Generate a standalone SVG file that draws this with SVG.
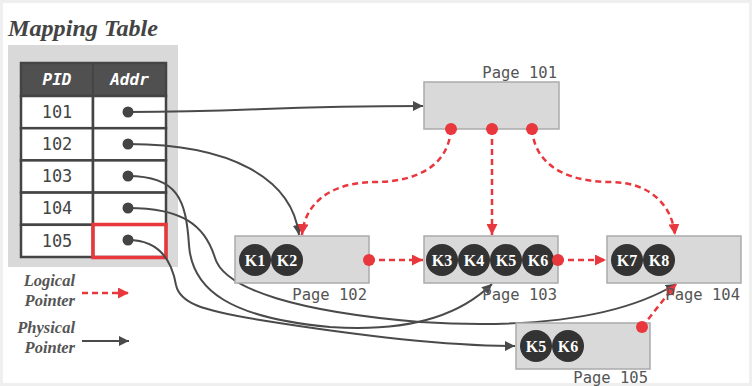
<svg xmlns="http://www.w3.org/2000/svg" width="752" height="386" viewBox="0 0 752 386">
<defs>
<style>
.title{font-family:"Liberation Serif","DejaVu Serif",serif;font-weight:bold;font-style:italic;fill:#444}
.legend{font-family:"Liberation Serif","DejaVu Serif",serif;font-weight:bold;font-style:italic;font-size:16.5px;fill:#555;text-anchor:end}
.hdr{font-family:"DejaVu Sans Mono","Liberation Mono",monospace;font-weight:bold;font-style:italic;font-size:16px;fill:#fff;text-anchor:middle}
.pid{font-family:"DejaVu Sans Mono","Liberation Mono",monospace;font-size:17px;fill:#444;text-anchor:middle}
.cell{fill:#fff;stroke:#444;stroke-width:2.5}
.page{fill:#d9d9d9;stroke:#aaa;stroke-width:1.5}
.plabel{font-family:"DejaVu Sans Mono","Liberation Mono",monospace;font-size:15.5px;fill:#555;text-anchor:end}
.key{fill:#333}
.ktext{font-family:"Liberation Serif","DejaVu Serif",serif;font-weight:bold;font-size:16px;fill:#fff;text-anchor:middle}
.dot{fill:#444}
.rdot{fill:#e8373d}
.phys{fill:none;stroke:#4a4a4a;stroke-width:2}
.log{fill:none;stroke:#e8373d;stroke-width:2.5;stroke-dasharray:6 4}
</style>
<marker id="ab" viewBox="0 0 10 10" refX="10" refY="5" markerWidth="10" markerHeight="10" markerUnits="userSpaceOnUse" orient="auto"><path d="M0,0 L10,5 L0,10 z" fill="#4a4a4a"/></marker>
<marker id="ar" viewBox="0 0 10 10" refX="10" refY="5" markerWidth="11" markerHeight="11" markerUnits="userSpaceOnUse" orient="auto"><path d="M0,0 L10,5 L0,10 z" fill="#e8373d"/></marker>
</defs>
<rect x="0" y="0" width="752" height="386" fill="#efefef"/>
<rect x="3" y="3" width="746" height="380" fill="#fff"/>

<g id="mapping-table">
<text class="title" x="8" y="36" font-size="23" textLength="150" lengthAdjust="spacingAndGlyphs">Mapping Table</text>
<rect x="8" y="45" width="170" height="222" fill="#d9d9d9"/>
<rect x="21" y="63" width="145" height="33" fill="#505050" stroke="#444" stroke-width="2.5"/>
<line x1="93" y1="63" x2="93" y2="96" stroke="#444" stroke-width="2"/>
<text class="hdr" x="57" y="85">PID</text>
<text class="hdr" x="129.5" y="85">Addr</text>
<rect class="cell" x="21" y="96" width="72" height="32.2"/>
<rect class="cell" x="93" y="96" width="73" height="32.2"/>
<rect class="cell" x="21" y="128.2" width="72" height="32.2"/>
<rect class="cell" x="93" y="128.2" width="73" height="32.2"/>
<rect class="cell" x="21" y="160.4" width="72" height="32.2"/>
<rect class="cell" x="93" y="160.4" width="73" height="32.2"/>
<rect class="cell" x="21" y="192.6" width="72" height="32.2"/>
<rect class="cell" x="93" y="192.6" width="73" height="32.2"/>
<rect class="cell" x="21" y="224.8" width="72" height="32.2"/>
<rect class="cell" x="93" y="224.8" width="73" height="32.2"/>
<text class="pid" x="57" y="118">101</text>
<text class="pid" x="57" y="150">102</text>
<text class="pid" x="57" y="182">103</text>
<text class="pid" x="57" y="214">104</text>
<text class="pid" x="57" y="247">105</text>
<rect x="93" y="224.5" width="73" height="33" fill="none" stroke="#e8373d" stroke-width="3.5"/>
</g>

<g id="connectors">
<path class="phys" d="M128,112 C250,112 270,106 423,106" marker-end="url(#ab)"/>
<path class="phys" d="M128,144 C230,144 292,178 299,235" marker-end="url(#ab)"/>
<path class="phys" d="M128,176 C178,176 186,200 189,245 C192,290 230,318 330,327 C420,333 465,310 492,284" marker-end="url(#ab)"/>
<path class="phys" d="M128,208 C182,208 205,225 215,258 C225,290 300,312 420,322 C550,330 630,312 676,284" marker-end="url(#ab)"/>
<path class="phys" d="M128,240 C160,240 172,262 176,285 C180,303 200,310 260,320 C360,336 450,346 515,346" marker-end="url(#ab)"/>

<path class="log" d="M451,129 C448,170 410,182 375,182 C335,182 305,200 302,235" marker-end="url(#ar)"/>
<path class="log" d="M492,129 L492,235" marker-end="url(#ar)"/>
<path class="log" d="M532,129 C535,170 575,182 610,182 C650,182 672,205 675,235" marker-end="url(#ar)"/>
<path class="log" d="M369,260 L423,260" marker-end="url(#ar)"/>
<path class="log" d="M558,260 L606,260" marker-end="url(#ar)"/>
<path class="log" d="M642,327 L676,284" marker-end="url(#ar)"/>

<circle class="dot" cx="128" cy="112" r="5.5"/>
<circle class="dot" cx="128" cy="144" r="5.5"/>
<circle class="dot" cx="128" cy="176" r="5.5"/>
<circle class="dot" cx="128" cy="208" r="5.5"/>
<circle class="dot" cx="128" cy="240" r="5.5"/>
</g>

<g id="page-101">
<rect class="page" x="424" y="82" width="135" height="47"/>
<text class="plabel" x="557" y="78">Page 101</text>
<circle class="rdot" cx="451" cy="129" r="6"/>
<circle class="rdot" cx="492" cy="129" r="6"/>
<circle class="rdot" cx="532" cy="129" r="6"/>
</g>

<g id="page-102">
<rect class="page" x="235" y="236" width="134" height="47"/>
<text class="plabel" x="367" y="300">Page 102</text>
<circle class="key" cx="255" cy="260" r="16"/><text class="ktext" x="255" y="265.5">K1</text>
<circle class="key" cx="287" cy="260" r="16"/><text class="ktext" x="287" y="265.5">K2</text>
<circle class="rdot" cx="369" cy="260" r="6"/>
</g>

<g id="page-103">
<rect class="page" x="424" y="236" width="134" height="47"/>
<text class="plabel" x="557" y="300">Page 103</text>
<circle class="key" cx="442" cy="260" r="16"/><text class="ktext" x="442" y="265.5">K3</text>
<circle class="key" cx="474" cy="260" r="16"/><text class="ktext" x="474" y="265.5">K4</text>
<circle class="key" cx="506" cy="260" r="16"/><text class="ktext" x="506" y="265.5">K5</text>
<circle class="key" cx="538" cy="260" r="16"/><text class="ktext" x="538" y="265.5">K6</text>
<circle class="rdot" cx="558" cy="260" r="6"/>
</g>

<g id="page-104">
<rect class="page" x="607" y="236" width="134" height="47"/>
<text class="plabel" x="740" y="300">Page 104</text>
<circle class="key" cx="627" cy="260" r="16"/><text class="ktext" x="627" y="265.5">K7</text>
<circle class="key" cx="659" cy="260" r="16"/><text class="ktext" x="659" y="265.5">K8</text>
</g>

<g id="page-105">
<rect class="page" x="516" y="323" width="134" height="46"/>
<text class="plabel" x="648" y="383">Page 105</text>
<circle class="key" cx="536" cy="346" r="16"/><text class="ktext" x="536" y="351.5">K5</text>
<circle class="key" cx="568" cy="346" r="16"/><text class="ktext" x="568" y="351.5">K6</text>
<circle class="rdot" cx="642" cy="327" r="6"/>
</g>

<g id="legend">
<text class="legend" x="75" y="286">Logical</text>
<text class="legend" x="75" y="305.5">Pointer</text>
<path class="log" d="M82,293 L129,293" marker-end="url(#ar)"/>
<text class="legend" x="75" y="333">Physical</text>
<text class="legend" x="75" y="352.5">Pointer</text>
<path class="phys" d="M82,341 L129,341" marker-end="url(#ab)"/>
</g>
</svg>
